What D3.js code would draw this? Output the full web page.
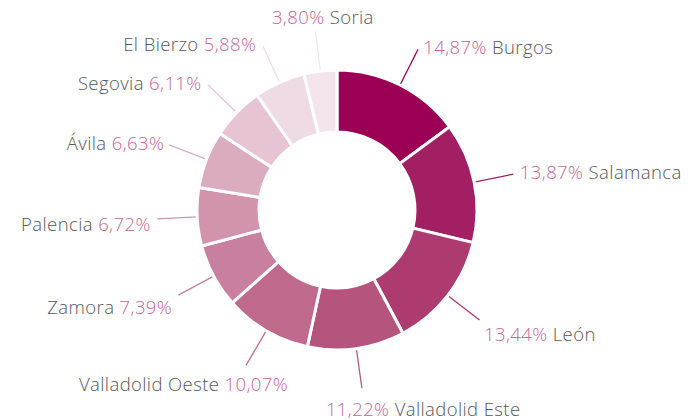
<!DOCTYPE html>
<html>
<head>
<meta charset="utf-8">
<script src="https://cdn.jsdelivr.net/npm/d3@7"></script>
<style>
  html, body { margin: 0; padding: 0; background: #fff; }
  svg text { font-family: "Open Sans", "DejaVu Sans", sans-serif; font-weight: 300; }
</style>
</head>
<body>
<div id="chart"></div>
<script>
// shares per area (%)
const categories = ["Burgos", "Salamanca", "León", "Valladolid Este", "Valladolid Oeste",
    "Zamora", "Palencia", "Ávila", "Segovia", "El Bierzo", "Soria"];
const values = [14.87, 13.87, 13.44, 11.22, 10.07, 7.39, 6.72, 6.63, 6.11, 5.88, 3.80];
const colors = ["#9c0055", "#a31f63", "#ad3b6f", "#b5557d", "#bf6a8d", "#c97f9f",
    "#d293ad", "#dbacc0", "#e6c4d3", "#efdbe4", "#f4e5ec"];

const width = 688, height = 420;
const cx = 337, cy = 210;
const rOuter = 140, rInner = 78, rLine = 180;

const svg = d3.select("#chart").append("svg")
    .attr("width", width).attr("height", height);

const g = svg.append("g").attr("transform", "translate(" + cx + "," + cy + ")");

let pie = d3.pie().sort(null).value(d => d.value);
let arc = d3.arc().innerRadius(rInner).outerRadius(rOuter);

let data = categories.map((c, i) => ({name: c, value: values[i], color: colors[i]}));
let arcs = pie(data);

let fmt = v => d3.format(".2f")(v).replace(".", ",") + "%";
let mid = d => (d.startAngle + d.endAngle) / 2;

// leader lines
g.selectAll("line.lead").data(arcs).enter().append("line")
    .attr("class", "lead")
    .attr("x1", d => Math.sin(mid(d)) * (rOuter - 10))
    .attr("y1", d => -Math.cos(mid(d)) * (rOuter - 10))
    .attr("x2", d => Math.sin(mid(d)) * rLine)
    .attr("y2", d => -Math.cos(mid(d)) * rLine)
    .attr("stroke", d => d.data.color)
    .attr("stroke-width", 1.3);

// slices
g.selectAll("path.slice").data(arcs).enter().append("path")
    .attr("class", "slice")
    .attr("d", arc)
    .attr("fill", d => d.data.color)
    .attr("stroke", "#fff")
    .attr("stroke-width", 3);

// labels
let labels = g.selectAll("text.lbl").data(arcs).enter().append("text")
    .attr("class", "lbl")
    .attr("font-size", 18.5)
    .attr("letter-spacing", 0.4)
    .attr("dominant-baseline", "central");

labels.each(function(d) {
    let a = mid(d);
    let s = Math.sin(a), c = Math.cos(a);
    let t = d3.select(this);
    let pctFirst = s > -0.15;
    let parts = pctFirst
        ? [[fmt(d.data.value), "#c5679a"], [" " + d.data.name, "#58585a"]]
        : [[d.data.name + " ", "#58585a"], [fmt(d.data.value), "#c5679a"]];
    parts.forEach(p => t.append("tspan").attr("fill", p[1]).text(p[0]));
    let w = this.getComputedTextLength();
    let ex = s * rLine, ey = -c * rLine;
    let fx, dy;
    if (c > 0) {
        // upper half: labels sit beside the line end, the top one above it
        fx = Math.abs(s) < 0.3 ? 0.5 + 0.6 * s : (s > 0 ? -0.04 : 1.05);
        dy = Math.abs(s) < 0.3 ? -15 : -3;
    } else {
        fx = Math.max(-0.04, Math.min(1.05, 0.317 - 0.953 * s));
        dy = 3 - 16.5 * c;
    }
    t.attr("x", ex - fx * w).attr("y", ey + dy);
});
</script>
</body>
</html>
